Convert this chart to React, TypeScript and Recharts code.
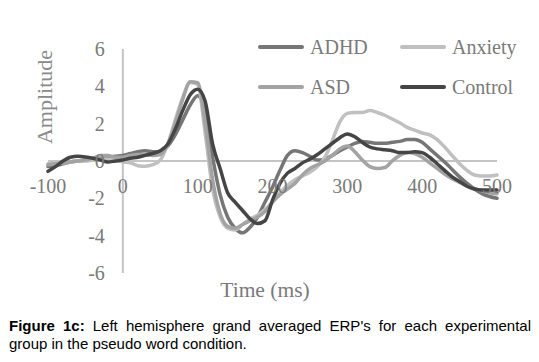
import { LineChart, Line, XAxis, YAxis, ReferenceLine, ReferenceDot, Legend } from 'recharts';

// time points (ms)
const TIMES = [
  -100, -90, -80, -70, -60, -50, -40, -30, -20, -10,
  0, 10, 20, 30, 40, 50, 60, 70, 80, 90,
  100, 110, 120, 130, 140, 150, 160, 170, 180, 190,
  200, 210, 220, 230, 240, 250, 260, 270, 280, 290,
  300, 310, 320, 330, 340, 350, 360, 370, 380, 390,
  400, 410, 420, 430, 440, 450, 460, 470, 480, 490, 500,
];

const ADHD = [
  -0.3, -0.25, -0.15, -0.05, 0.0, 0.05, 0.1, 0.15, 0.2, 0.25,
  0.3, 0.4, 0.5, 0.55, 0.5, 0.5, 0.8, 1.4, 2.2, 3.0,
  3.5, 2.6, 0.2, -1.8, -3.0, -3.6, -3.85, -3.55, -3.0, -2.2,
  -1.4, -0.5, 0.3, 0.55, 0.45, 0.25, 0.05, 0.1, 0.3, 0.55,
  0.75, 0.95, 1.05, 1.0, 0.95, 0.95, 1.0, 1.05, 1.15, 1.15,
  1.0, 0.65, 0.3, -0.05, -0.45, -0.85, -1.2, -1.5, -1.75, -1.9, -2.0,
];

const ANXIETY = [
  -0.15, -0.15, -0.1, -0.05, 0.0, 0.0, 0.05, 0.1, 0.1, 0.05,
  -0.05, -0.1, -0.25, -0.28, -0.2, 0.05, 0.9, 2.2, 3.4, 4.2,
  4.1, 1.5, -1.5, -3.0, -3.6, -3.7, -3.4, -3.1, -2.9, -2.6,
  -2.2, -1.7, -1.3, -1.0, -0.8, -0.6, -0.3, 0.2, 1.1, 2.1,
  2.55, 2.6, 2.6, 2.7, 2.6, 2.45, 2.25, 2.05, 1.8, 1.65,
  1.5, 1.4, 1.15, 0.75, 0.3, -0.15, -0.5, -0.75, -0.8, -0.8, -0.75,
];

const ASD = [
  -0.2, -0.15, -0.1, -0.05, 0.0, 0.05, 0.15, 0.3, 0.3, 0.2,
  0.2, 0.3, 0.35, 0.35, 0.3, 0.35, 0.9, 2.0, 3.3, 4.25,
  4.2, 2.0, -1.0, -2.8, -3.5, -3.6, -3.4, -3.2, -3.0, -2.7,
  -2.2, -1.8, -1.5, -1.2, -0.75, -0.4, -0.2, 0.0, 0.3, 0.65,
  0.8, 0.5, 0.05, -0.3, -0.4, -0.35, 0.0, 0.3, 0.45, 0.4,
  0.2, -0.1, -0.4, -0.7, -0.95, -1.15, -1.35, -1.5, -1.6, -1.7, -1.75,
];

const CONTROL = [
  -0.55, -0.3, 0.0, 0.2, 0.25, 0.22, 0.15, 0.05, -0.05, 0.0,
  0.05, 0.15, 0.2, 0.3, 0.4, 0.55, 0.9, 1.7, 2.7, 3.55,
  3.85, 3.2, 0.9, -0.4, -1.7, -2.2, -2.65, -3.1, -3.35, -3.2,
  -2.1, -1.2, -0.65, -0.4, -0.1, 0.1, 0.35, 0.65, 0.95, 1.25,
  1.45, 1.3, 1.0, 0.75, 0.65, 0.6, 0.55, 0.45, 0.45, 0.5,
  0.45, 0.2, -0.15, -0.5, -0.85, -1.1, -1.35, -1.5, -1.55, -1.55, -1.55,
];

const X_TICKS = [-100, 0, 100, 200, 300, 400, 500];
const Y_TICKS = [-6, -4, -2, 0, 2, 4, 6];

const SERIES = [
  { key: 'ADHD', values: ADHD, color: '#767676' },
  { key: 'Anxiety', values: ANXIETY, color: '#c0c0c0' },
  { key: 'ASD', values: ASD, color: '#a3a3a3' },
  { key: 'Control', values: CONTROL, color: '#454545' },
];

const data = TIMES.map((t, i) => {
  const row: Record<string, number> = { t };
  SERIES.forEach(s => { row[s.key] = s.values[i]; });
  return row;
});

const SERIF = "'Liberation Serif', 'Times New Roman', serif";
const TICK_COLOR = '#7a7a7a';

// keep legend in series order (recharts sorts by name otherwise)
const legendOrder = (item: any) => SERIES.findIndex(s => s.key === item.value);

const renderLegend = (props: any) => {
  const items = [...(props.payload || [])].sort((a: any, b: any) => legendOrder(a) - legendOrder(b));
  return (
    <div style={{ display: 'grid', gridTemplateColumns: '142px 140px', rowGap: 18 }}>
      {items.map((it: any) => (
        <div key={it.value} style={{ display: 'flex', alignItems: 'center', height: 22 }}>
          <span style={{ display: 'inline-block', width: 46, height: 4, borderRadius: 2, background: it.color, marginRight: 6 }} />
          <span style={{ fontFamily: SERIF, fontSize: 20, color: TICK_COLOR, lineHeight: '22px' }}>{it.value}</span>
        </div>
      ))}
    </div>
  );
};

const captionStyle = {
  fontFamily: "'Liberation Sans', Arial, sans-serif", fontSize: 15, lineHeight: '18px', color: '#000',
};

const App = () => {
  return (
    <div style={{ position: 'absolute', left: 0, top: 0, width: 539, height: 362, background: '#fff' }}>
      <LineChart width={539} height={300} data={data} margin={{ top: 49, right: 42, bottom: 27, left: 48 }}>
        <XAxis dataKey="t" type="number" domain={[-100, 500]} hide />
        <YAxis type="number" domain={[-6, 6]} hide />
        <ReferenceLine y={0} stroke="#c4c4c4" strokeWidth={2} />
        <ReferenceLine x={0} stroke="#c4c4c4" strokeWidth={2} />
        {SERIES.map(s => (
          <Line
            key={s.key}
            dataKey={s.key}
            name={s.key}
            type="monotone"
            stroke={s.color}
            strokeWidth={3.5}
            strokeLinecap="round"
            dot={false}
            isAnimationActive={false}
          />
        ))}
        {Y_TICKS.map(v => (
          <ReferenceDot key={`y${v}`} x={0} y={v} r={0} stroke="none" fill="none"
            label={{ value: String(v), position: 'left', offset: 18, fill: TICK_COLOR, fontSize: 20, fontFamily: SERIF }} />
        ))}
        {X_TICKS.map(v => (
          <ReferenceDot key={`x${v}`} x={v} y={0} r={0} stroke="none" fill="none"
            label={{ value: String(v), position: 'bottom', offset: 18, fill: TICK_COLOR, fontSize: 20, fontFamily: SERIF }} />
        ))}
        <Legend
          layout="horizontal"
          verticalAlign="middle"
          align="center"
          itemSorter={legendOrder}
          content={renderLegend}
          wrapperStyle={{ top: 36, left: 258, width: 290 }}
        />
      </LineChart>

      <div style={{
        position: 'absolute', left: 45, top: 97, transform: 'translate(-50%, -50%) rotate(-90deg)',
        fontFamily: SERIF, fontSize: 22, color: '#8a8a8a', whiteSpace: 'nowrap',
      }}>Amplitude</div>
      <div style={{
        position: 'absolute', left: 265, top: 290, transform: 'translate(-50%, -50%)',
        fontFamily: SERIF, fontSize: 21.5, color: TICK_COLOR, whiteSpace: 'nowrap',
      }}>Time (ms)</div>

      <div style={{ ...captionStyle, position: 'absolute', left: 9, top: 317, width: 522, textAlign: 'justify', textAlignLast: 'justify' }}>
        <b>Figure 1c:</b> Left hemisphere grand averaged ERP's for each experimental
      </div>
      <div style={{ ...captionStyle, position: 'absolute', left: 9, top: 335, width: 522 }}>
        group in the pseudo word condition.
      </div>
    </div>
  );
};

export default App;
